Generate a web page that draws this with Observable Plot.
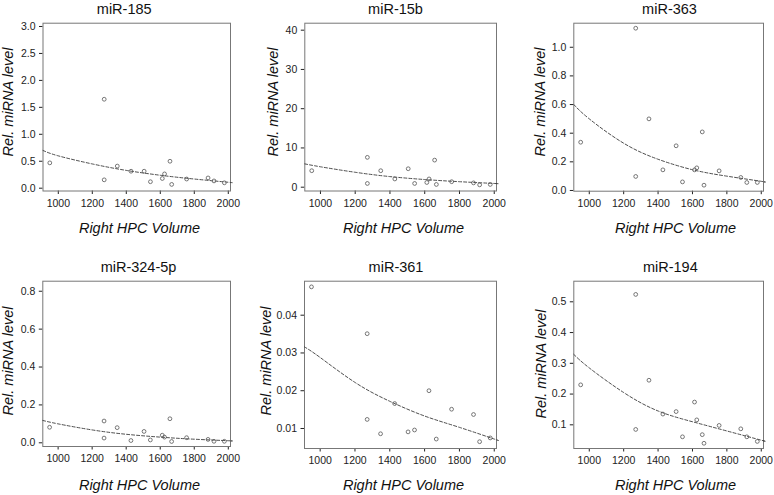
<!DOCTYPE html>
<html>
<head>
<meta charset="utf-8">
<script src="https://cdn.jsdelivr.net/npm/d3@7"></script>
<script src="https://cdn.jsdelivr.net/npm/@observablehq/plot@0.6"></script>
<style>
  body { margin: 0; background: #fff; }
  #wrap { position: relative; width: 774px; height: 495px; overflow: hidden; background: #fff; }
  .panel { position: absolute; }
  .panel svg { overflow: visible; }
  #labels { position: absolute; left: 0; top: 0; pointer-events: none; }
</style>
</head>
<body>
<div id="wrap"></div>
<script>
// ---- data ----
const volume = [950, 1270, 1270, 1347, 1428, 1505, 1542, 1612, 1625, 1657, 1667, 1755, 1881, 1916, 1977];

const mir185 = [0.47, 1.65, 0.155, 0.41, 0.315, 0.315, 0.12, 0.18, 0.265, 0.50, 0.07, 0.17, 0.19, 0.135, 0.10];
const mir15b = [4.2, 7.6, 0.95, 4.2, 2.1, 4.7, 0.95, 1.2, 2.1, 6.9, 0.7, 1.4, 1.1, 0.6, 0.7];
const mir363 = [0.337, 1.133, 0.098, 0.50, 0.144, 0.312, 0.06, 0.144, 0.158, 0.409, 0.037, 0.137, 0.091, 0.056, 0.056];
const mir324 = [0.082, 0.115, 0.025, 0.08, 0.012, 0.06, 0.015, 0.04, 0.03, 0.127, 0.007, 0.027, 0.018, 0.008, 0.008];
const mir361 = [0.0475, 0.0351, 0.0124, 0.0086, 0.0166, 0.0091, 0.0096, null, 0.0200, null, 0.0072, 0.0151, 0.0137, 0.0065, 0.0075];
const mir194 = [0.23, 0.524, 0.085, 0.245, 0.135, 0.143, 0.061, 0.174, 0.116, 0.068, 0.04, 0.098, 0.087, 0.061, 0.046];

// fitted curves
const fitVolume = [910, 1000, 1200, 1400, 1600, 1800, 2000, 2013];
const fit185 = [0.70, 0.60, 0.45, 0.33, 0.24, 0.17, 0.11, 0.105];
const fit15b = [5.94, 5.2, 3.8, 2.7, 1.95, 1.4, 0.95, 0.92];
const fit363 = [0.60, 0.50, 0.33, 0.218, 0.145, 0.10, 0.064, 0.06];
const fit324 = [0.118, 0.10, 0.068, 0.045, 0.03, 0.019, 0.011, 0.01];
const fit361 = [0.0316, 0.0288, 0.0222, 0.0172, 0.0133, 0.0103, 0.0072, 0.0070];
const fit194 = [0.329, 0.285, 0.205, 0.145, 0.11, 0.08, 0.05, 0.048];

// tick labels
const xTicks = [1000, 1200, 1400, 1600, 1800, 2000];
const yTicks185 = [0, 0.5, 1, 1.5, 2, 2.5, 3];
const yTicks15b = [0, 10, 20, 30, 40];
const yTicks363 = [0, 0.2, 0.4, 0.6, 0.8, 1.0];
const yTicks324 = [0, 0.2, 0.4, 0.6, 0.8];
const yTicks361 = [0.01, 0.02, 0.03, 0.04];
const yTicks194 = [0.1, 0.2, 0.3, 0.4, 0.5];

const titles = ["miR-185", "miR-15b", "miR-363", "miR-324-5p", "miR-361", "miR-194"];
const xLabel = "Right HPC Volume";
const yLabel = "Rel. miRNA level";

// ---- layout ----
const xDomain = [910, 2013];
const panels = [
  {title: titles[0], values: mir185, fit: fit185, ticks: yTicks185, fmt: ".1f", domain: [-0.052, 3.061],
   left: 0, top: 0, width: 258, height: 248, mt: 22.7, mb: 57.5, ml: 42.5, mr: 28,
   titleX: 123.7, titleY: 13, xlabX: 139, xlabY: 232.5, ylabX: 13.3, ylabY: 102},
  {title: titles[1], values: mir15b, fit: fit15b, ticks: yTicks15b, fmt: "d", domain: [-0.97, 41.78],
   left: 258, top: 0, width: 256, height: 248, mt: 22.7, mb: 57.5, ml: 46.3, mr: 18,
   titleX: 395, titleY: 13, xlabX: 403, xlabY: 232.5, ylabX: 277.5, ylabY: 102},
  {title: titles[2], values: mir363, fit: fit363, ticks: yTicks363, fmt: ".1f", domain: [-0.005, 1.168],
   left: 514, top: 0, width: 260, height: 248, mt: 22.7, mb: 57.3, ml: 59.3, mr: 11,
   titleX: 669, titleY: 13, xlabX: 675, xlabY: 232.5, ylabX: 544.7, ylabY: 102},
  {title: titles[3], values: mir324, fit: fit324, ticks: yTicks324, fmt: ".1f", domain: [-0.0195, 0.853],
   left: 0, top: 248, width: 258, height: 247, mt: 32.7, mb: 49, ml: 42.3, mr: 28,
   titleX: 138, titleY: 271.3, xlabX: 139, xlabY: 489.7, ylabX: 13.3, ylabY: 361},
  {title: titles[4], values: mir361, fit: fit361, ticks: yTicks361, fmt: ".2f", domain: [0.0047, 0.049],
   left: 258, top: 248, width: 256, height: 247, mt: 32.7, mb: 47, ml: 46, mr: 18,
   titleX: 395.5, titleY: 271.3, xlabX: 403, xlabY: 489.7, ylabX: 271.3, ylabY: 361},
  {title: titles[5], values: mir194, fit: fit194, ticks: yTicks194, fmt: ".1f", domain: [0.023, 0.567],
   left: 514, top: 248, width: 260, height: 247, mt: 32.7, mb: 47, ml: 59.3, mr: 11,
   titleX: 669.8, titleY: 271.3, xlabX: 675, xlabY: 489.7, ylabX: 545.7, ylabY: 364}
];

const font = '"Liberation Sans", Arial, Helvetica, sans-serif';
const wrap = document.getElementById("wrap");

for (const cfg of panels) {
  const {left, top, width, height, mt, mb, ml, mr} = cfg;
  const fw = width - ml - mr;
  const cx = left + ml + fw / 2;
  const pts = volume.map((v, i) => ({x: v, y: cfg.values[i]})).filter(d => d.y != null);
  const fit = fitVolume.map((v, i) => ({x: v, y: cfg.fit[i]}));

  const plot = Plot.plot({
    width, height,
    marginTop: mt, marginBottom: mb, marginLeft: ml, marginRight: mr,
    style: {fontFamily: font, fontSize: "10.5px", color: "#222", background: "transparent", overflow: "visible"},
    x: {domain: xDomain, ticks: xTicks, tickFormat: d3.format("d"), tickSize: 3.5, tickPadding: 5, label: null},
    y: {domain: cfg.domain, ticks: cfg.ticks, tickFormat: d3.format(cfg.fmt), tickSize: 3.5, tickPadding: 4, label: null},
    marks: [
      Plot.frame({stroke: "#777", strokeWidth: 1}),
      Plot.line(fit, {x: "x", y: "y", curve: "natural", stroke: "#3a3a3a", strokeWidth: 0.9, strokeDasharray: "3,2"}),
      Plot.dot(pts, {x: "x", y: "y", r: 1.9, stroke: "#555", strokeWidth: 0.8, fill: "none"}),
      Plot.text([cfg.title], {text: d => d, frameAnchor: "top", lineAnchor: "bottom",
        dx: cfg.titleX - cx, dy: cfg.titleY - (top + mt), fontSize: 14.5, fill: "#111"}),
      Plot.text([xLabel], {text: d => d, frameAnchor: "bottom", lineAnchor: "bottom",
        dx: cfg.xlabX - cx, dy: cfg.xlabY - (top + height - mb), fontSize: 14.5, fontStyle: "italic", fill: "#111"})
    ]
  });
  const div = document.createElement("div");
  div.className = "panel";
  div.style.left = left + "px";
  div.style.top = top + "px";
  div.appendChild(plot);
  wrap.appendChild(div);
}

// rotated y-axis labels (overlay)
const overlay = d3.select(wrap).append("svg")
  .attr("id", "labels").attr("width", 774).attr("height", 495);
overlay.selectAll("text").data(panels).join("text")
  .attr("transform", d => `translate(${d.ylabX},${d.ylabY}) rotate(-90)`)
  .attr("text-anchor", "middle")
  .attr("font-family", font)
  .attr("font-size", 14.5)
  .attr("font-style", "italic")
  .attr("fill", "#111")
  .text(yLabel);
</script>
</body>
</html>
